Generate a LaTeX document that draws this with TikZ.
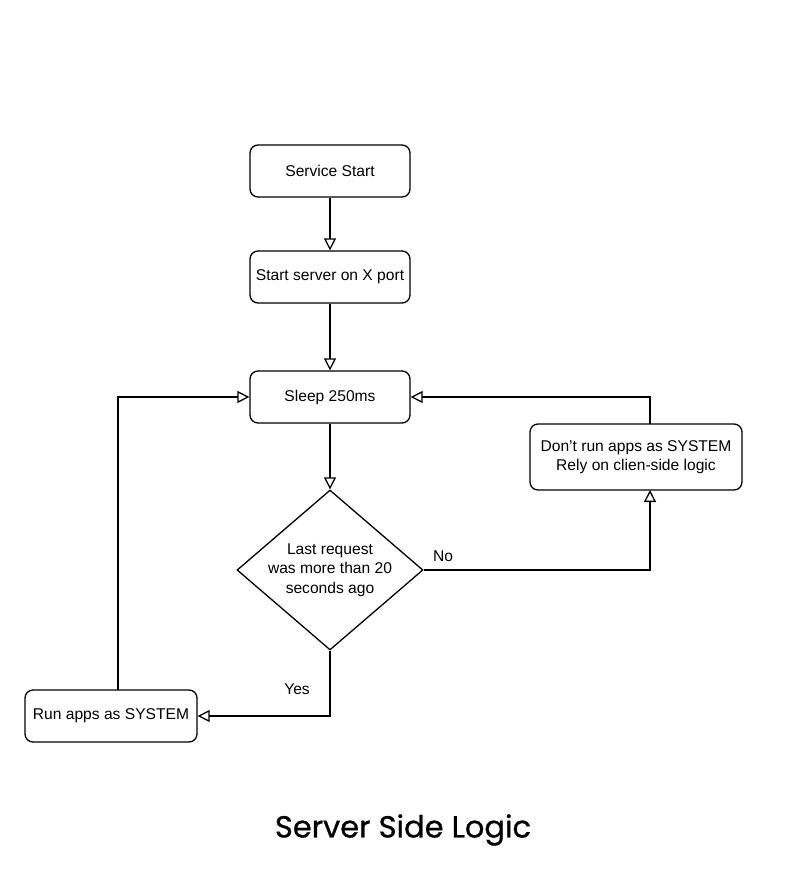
\documentclass[tikz,border=0pt]{standalone}
\usepackage{fontspec}
\setmainfont{Liberation Sans}
\newfontfamily\titlefont{Poppins}[FakeBold=0.8]
\usetikzlibrary{arrows.meta,shapes.geometric}
\begin{document}
\begin{tikzpicture}[x=1pt,y=-1pt,
  every node/.style={font=\fontsize{15.6}{19.5}\selectfont},
  box/.style={draw, line width=1.3pt, rounded corners=8pt, align=center, inner sep=0pt},
  dia/.style={draw, line width=1.3pt, diamond, inner sep=0pt},
  conn/.style={draw, line width=1.3pt, -{Triangle[open, length=12pt, width=12pt]}},
  lbl/.style={inner sep=0pt, align=center}]
\useasboundingbox (0,0) rectangle (805,873);
\node[box, minimum width=160pt, minimum height=52pt] (start) at (330,171) {Service Start};
\node[box, minimum width=160pt, minimum height=52pt] (server) at (330,277) {Start server on X port};
\node[box, minimum width=160pt, minimum height=52pt] (sleep) at (330,397) {Sleep 250ms};
\node[dia, minimum width=186pt, minimum height=160pt] (q) at (330,570) {};
\node[lbl] (qtext) at (q.center) {Last request\\was more than 20\\seconds ago};
\node[box, minimum width=212pt, minimum height=66pt] (dont) at (636,457) {Don't run apps as SYSTEM\\Rely on clien-side logic};
\node[box, minimum width=172pt, minimum height=52pt] (run) at (111,716) {Run apps as SYSTEM};
\node[lbl] (no) at (443,556) {No};
\node[lbl] (yes) at (297,689) {Yes};
\node[lbl, font=\titlefont\fontsize{30.5}{36}\selectfont] (title) at (403,830) {Server Side Logic};
\coordinate (dontb) at (650,490);
\coordinate (dontt) at (650,424);
\coordinate (runt) at (118,690);
\path[conn] (start) -- (server);
\path[conn] (server) -- (sleep);
\path[conn] (sleep) -- (q);
\path[conn] (q.east) -- (650,570) -- (dontb);
\path[conn] (dontt) -- (650,397) -- (sleep.east);
\path[conn] (q.south) -- (330,716) -- (run.east);
\path[conn] (runt) -- (118,397) -- (sleep.west);
\end{tikzpicture}
\end{document}
